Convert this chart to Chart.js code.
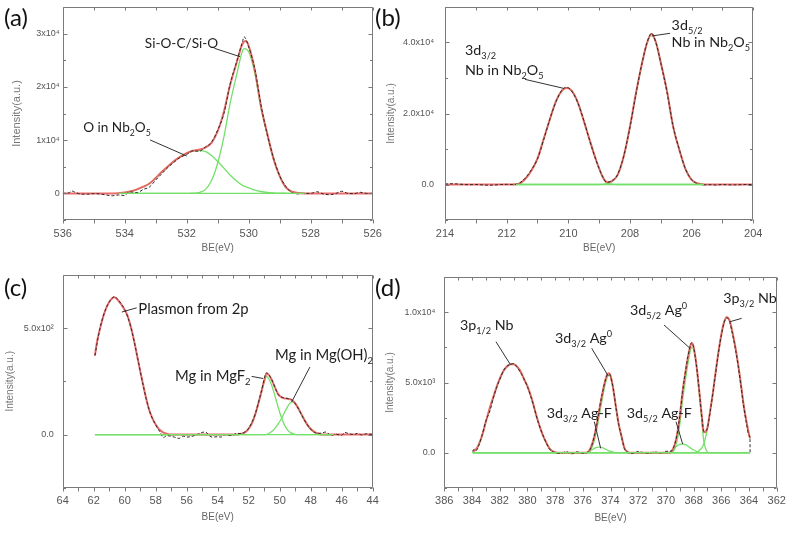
<!DOCTYPE html>
<html>
<head>
<meta charset="utf-8">
<script src="https://cdn.jsdelivr.net/npm/chart.js@4.4.1/dist/chart.umd.min.js"></script>
<style>
  html, body { margin: 0; padding: 0; background: #fff; }
  #fig { position: relative; width: 789px; height: 537px; overflow: hidden; }
  #fig canvas { position: absolute; }
  .tag { position: absolute; font-family: Lato, sans-serif; font-size: 24px; line-height: 1; color: #111; }
</style>
</head>
<body>
<div id="fig">
  <canvas id="pa" width="390" height="268" style="left:0px;top:0px"></canvas>
  <canvas id="pb" width="409" height="268" style="left:380px;top:0px"></canvas>
  <canvas id="pc" width="390" height="269" style="left:0px;top:268px"></canvas>
  <canvas id="pd" width="409" height="269" style="left:380px;top:268px"></canvas>
  <div class="tag" style="left:4px;top:5px">(a)</div>
  <div class="tag" style="left:375px;top:5px">(b)</div>
  <div class="tag" style="left:4px;top:275px">(c)</div>
  <div class="tag" style="left:375px;top:275px">(d)</div>
</div>
<script>
/* ----------------------------- */
/* DATA (a)  O 1s                */
/* ----------------------------- */
const aDataBE = [536.0,535.8,535.7,535.6,535.4,535.2,535.0,534.8,534.6,534.4,534.2,534.0,533.9,533.8,533.6,533.4,533.2,533.0,532.8,532.6,532.4,532.2,532.0,531.8,531.6,531.4,531.2,531.0,530.8,530.6,530.4,530.2,530.15,530.0,529.8,529.6,529.4,529.2,529.0,528.8,528.6,528.4,528.2,528.0,527.8,527.6,527.4,527.2,527.0,526.8,526.6,526.4,526.2,526.0];
const aDataI = [0,100,450,200,-150,-150,-50,-100,-300,-450,-300,-400,100,250,150,750,1200,2500,3700,4900,5900,6800,7300,8000,7900,8700,9600,11900,15000,20500,24500,28500,29400,27500,23300,16500,11000,6700,3300,1300,100,-100,0,0,300,-100,-250,-50,400,0,-50,200,0,0];
const aFitBE = [536,535,534.4,534.2,534.0,533.8,533.6,533.4,533.2,533.0,532.8,532.6,532.4,532.2,532.0,531.8,531.6,531.4,531.2,531.0,530.8,530.6,530.4,530.2,530.1,530.0,529.8,529.6,529.4,529.2,529.0,528.8,528.6,528.4,528.2,527,526];
const aFitI = [0,0,0,30,150,400,750,1250,1850,2900,4050,5100,6100,6900,7550,8000,8200,8600,9500,11700,15350,20350,24350,28100,28600,27700,23100,16250,11200,6510,3250,1120,300,80,0,0,0];
const aNbOBE = [534.2,534.0,533.8,533.6,533.4,533.2,533.0,532.8,532.6,532.4,532.2,532.0,531.8,531.6,531.4,531.2,531.0,530.8,530.6,530.4,530.2,530.0,529.8,529.6,529.4,529.2,529.0,528.8,528.6,528.2];
const aNbOI = [30,150,400,750,1250,1850,2900,4050,5100,6100,6900,7550,7950,8040,7900,7100,6000,4750,3450,2350,1500,1050,600,350,200,110,50,20,0,0];
const aSiOBE = [534.2,532.0,531.8,531.6,531.4,531.2,531.0,530.8,530.6,530.4,530.2,530.14,530.0,529.8,529.6,529.4,529.2,529.0,528.8,528.6,528.4,528.2];
const aSiOI = [0,0,50,150,700,2400,5700,10600,16900,22000,26800,27200,26600,22500,15900,11000,6400,3200,1100,300,80,0];
const aBaseBE = [534.2, 528.2];
const aBaseI = [0, 0];
const aYTickVals = [0, 10000, 20000, 30000];
const aYTickText = ['0', '1x10\u2074', '2x10\u2074', '3x10\u2074'];

/* ----------------------------- */
/* DATA (b)  Nb 3d               */
/* ----------------------------- */
const bDataBE = [214,213.8,213.6,213.4,213.2,213.0,212.8,212.6,212.4,212.2,212.0,211.8,211.6,211.4,211.2,211.0,210.8,210.6,210.4,210.2,210.05,209.9,209.7,209.5,209.3,209.1,208.9,208.76,208.6,208.4,208.2,208.0,207.8,207.6,207.45,207.3,207.15,207.0,206.8,206.6,206.4,206.2,206.0,205.8,205.6,205.4,205.2,205.0,204.8,204.6,204.4,204.2,204];
const bDataI = [100,200,150,0,-50,0,-100,-200,-150,0,50,0,300,1800,4100,7200,12600,18400,23300,26700,27400,26400,23200,18100,12200,6800,2500,650,1000,2800,8100,16200,25800,34600,39900,42600,39700,34200,26100,16400,9900,4400,1400,200,-100,-50,-150,0,-100,-100,-50,0,0];
const bFitBE = [214,212,211.8,211.6,211.4,211.2,211.0,210.8,210.6,210.4,210.2,210.05,209.9,209.7,209.5,209.3,209.1,208.9,208.8,208.72,208.6,208.4,208.2,208.0,207.8,207.6,207.45,207.3,207.15,207.0,206.8,206.6,206.4,206.2,206.0,205.8,205.6,204];
const bFitI = [0,0,0,200,1550,3900,7300,12800,18300,23500,26500,27200,26500,23300,18000,12300,6900,2400,1000,650,900,2700,8000,16300,26000,34500,39800,42400,39800,34300,26300,16300,9800,4300,1300,300,0,0];
const b32BE = [211.8,211.6,211.4,211.2,211.0,210.8,210.6,210.4,210.2,210.05,209.9,209.7,209.5,209.3,209.1,208.9,208.8,208.7,208.6,208.4,205.6];
const b32I = [0,200,1550,3900,7300,12800,18300,23500,26500,27200,26500,23300,18000,12300,6900,2300,900,300,80,0,0];
const b52BE = [211.8,209.0,208.8,208.6,208.4,208.2,208.0,207.8,207.6,207.45,207.3,207.15,207.0,206.8,206.6,206.4,206.2,206.0,205.8,205.6];
const b52I = [0,0,150,700,2700,8000,16300,26000,34500,39800,42400,39800,34300,26300,16300,9800,4300,1300,300,0];
const bBaseBE = [211.7, 205.6];
const bBaseI = [0, 0];
const bYTickVals = [0, 20000, 40000];
const bYTickText = ['0.0', '2.0x10\u2074', '4.0x10\u2074'];

/* ----------------------------- */
/* DATA (c)  Mg 2p               */
/* ----------------------------- */
const cDataBE = [61.92,61.6,61.2,60.8,60.67,60.4,60.0,59.6,59.2,58.8,58.4,58.0,57.7,57.5,57.3,57.0,56.8,56.5,56.2,56.0,55.5,55.0,54.8,54.5,54.3,54.0,53.8,53.5,53.2,53.0,52.8,52.5,52.2,52.0,51.6,51.2,50.85,50.5,50.1,49.7,49.3,48.9,48.5,48.1,47.7,47.4,47.0,46.7,46.4,46.0,45.8,45.5,45.2,45.0,44.7,44.4,44.0];
const cDataI = [371,497,594,641,648,630,587,503,372,228,110,45,10,-15,-5,-8,-12,-18,-8,-12,-5,10,12,-8,-12,-10,-12,0,-5,-2,5,5,15,30,92,197,290,256,188,172,166,135,80,34,8,6,12,-5,2,-4,10,3,0,5,-2,4,0];
const cFitBE = [61.92,61.8,61.6,61.4,61.2,61.0,60.8,60.67,60.4,60.2,60.0,59.8,59.6,59.4,59.2,59.0,58.8,58.6,58.4,58.2,58.0,57.8,57.6,57.4,57.0,52.8,52.6,52.4,52.2,52.0,51.8,51.6,51.4,51.2,51.0,50.85,50.7,50.5,50.3,50.1,49.9,49.7,49.5,49.3,49.1,48.9,48.7,48.5,48.3,48.1,47.9,47.7,47.5,47.3,44.0];
const cFitI = [371,430,495,550,592,622,640,645,628,608,585,555,505,442,370,298,230,165,112,75,47,27,14,6,0,0,2,5,12,28,52,90,140,195,252,285,280,255,220,190,176,170,168,165,155,136,110,82,56,35,20,10,4,0,0];
const cMgF2BE = [61.92,52.6,52.4,52.2,52.0,51.8,51.6,51.4,51.2,51.0,50.85,50.7,50.5,50.3,50.1,49.9,49.7,49.5,49.3,49.1,48.9,46.5];
const cMgF2I = [0,0,5,12,28,52,90,140,195,248,273,262,228,180,128,82,46,22,9,3,0,0];
const cMgOHBE = [61.92,50.9,50.7,50.5,50.3,50.1,49.9,49.7,49.5,49.3,49.2,49.0,48.8,48.6,48.4,48.2,48.0,47.8,47.6,47.4,47.2,46.5];
const cMgOHI = [0,0,5,15,30,50,73,102,130,150,153,145,122,95,66,42,24,13,6,2,0,0];
const cBaseBE = [61.92, 46.5];
const cBaseI = [0, 0];
const cYTickVals = [0, 500];
const cYTickText = ['0.0', '5.0x10\u00b2'];

/* ----------------------------- */
/* DATA (d)  Nb 3p / Ag 3d       */
/* ----------------------------- */
const dDataBE = [383.95,383.85,383.7,383.5,383.3,383.0,382.7,382.4,382.0,381.6,381.2,381.0,380.8,380.4,380.0,379.6,379.2,378.8,378.4,378.0,377.6,377.2,376.8,376.4,376.0,375.6,375.4,375.2,375.0,374.8,374.6,374.4,374.2,374.1,374.0,373.8,373.6,373.4,373.2,373.0,372.8,372.4,372.0,371.6,371.2,370.8,370.4,370.0,369.6,369.4,369.2,369.0,368.8,368.6,368.4,368.2,368.12,368.0,367.8,367.6,367.4,367.25,367.1,367.0,366.8,366.6,366.4,366.2,366.0,365.8,365.6,365.4,365.2,365.0,364.8,364.6,364.4,364.2,364.0,363.93,363.92];
const dDataI = [100,250,150,550,1150,2250,3000,4100,5200,6050,6300,6350,6150,5550,4700,3500,2100,1050,250,0,-50,80,-80,60,-50,80,380,1050,1950,3150,4200,5050,5600,5600,5450,4550,3200,1950,1150,300,50,-60,80,0,-40,60,-30,100,120,480,1250,2600,4300,5700,6900,7750,7850,7500,6250,4500,2500,1500,1550,1750,2950,4300,5750,7150,8350,9250,9600,9350,8500,7500,6300,4900,3400,2200,1250,1000,0];
const dFitBE = [383.95,383.8,383.6,383.4,383.2,383.0,382.8,382.6,382.4,382.2,382.0,381.8,381.6,381.4,381.2,381.0,380.8,380.6,380.4,380.2,380.0,379.8,379.6,379.4,379.2,379.0,378.8,378.6,378.4,378.2,378.0,377.8,375.8,375.6,375.4,375.2,375.0,374.8,374.6,374.4,374.2,374.1,374.0,373.8,373.6,373.4,373.2,373.0,372.8,372.6,369.8,369.6,369.4,369.2,369.0,368.8,368.6,368.4,368.2,368.12,368.0,367.8,367.6,367.4,367.3,367.2,367.1,367.0,366.8,366.6,366.4,366.2,366.0,365.8,365.6,365.4,365.2,365.0,364.8,364.6,364.4,364.2,364.0,363.93];
const dFitI = [100,150,400,850,1450,2200,2900,3550,4150,4750,5250,5700,6000,6200,6300,6300,6200,5950,5600,5150,4750,4200,3550,2800,2150,1550,1050,650,300,120,30,0,0,60,410,1040,1990,3100,4160,5070,5620,5650,5490,4540,3200,2000,1150,350,80,0,0,100,480,1270,2590,4320,5670,6860,7720,7800,7540,6290,4480,2550,1600,1450,1550,1800,3000,4300,5800,7200,8400,9300,9650,9400,8600,7600,6400,5000,3500,2300,1300,1020];
const d3p12BE = [383.95,383.8,383.6,383.4,383.2,383.0,382.8,382.6,382.4,382.2,382.0,381.8,381.6,381.4,381.2,381.0,380.8,380.6,380.4,380.2,380.0,379.8,379.6,379.4,379.2,379.0,378.8,378.6,378.4,378.2,378.0,377.8,363.93];
const d3p12I = [100,150,400,850,1450,2200,2900,3550,4150,4750,5250,5700,6000,6200,6300,6300,6200,5950,5600,5150,4750,4200,3550,2800,2150,1550,1050,650,300,120,30,0,0];
const dAg32BE = [383.95,375.6,375.4,375.2,375.0,374.8,374.6,374.4,374.2,374.1,374.0,373.8,373.6,373.4,373.2,373.0,372.8,372.6,363.93];
const dAg32I = [0,0,250,750,1610,2700,3800,4800,5450,5520,5400,4500,3200,2000,1150,350,80,0,0];
const dAgF32BE = [383.95,375.8,375.6,375.4,375.2,375.0,374.8,374.6,374.4,374.2,374.0,373.8,373.6,363.93];
const dAgF32I = [0,0,60,160,290,380,400,360,270,170,90,40,0,0];
const dAg52BE = [383.95,369.6,369.4,369.2,369.0,368.8,368.6,368.4,368.2,368.12,368.0,367.8,367.6,367.4,367.3,367.2,367.0,366.8,363.93];
const dAg52I = [0,0,200,800,2000,3700,5100,6400,7400,7500,7350,6200,4300,2200,1100,500,60,0,0];
const dAgF52BE = [383.95,369.8,369.6,369.4,369.2,369.0,368.8,368.6,368.4,368.2,368.0,367.8,367.6,367.4,363.93];
const dAgF52I = [0,0,100,280,470,590,620,570,460,320,190,90,30,0,0];
const d3p32BE = [383.95,367.8,367.6,367.4,367.3,367.2,367.0,366.8,366.6,366.4,366.2,366.0,365.8,365.6,365.4,365.2,365.0,364.8,364.6,364.4,364.2,364.0,363.93];
const d3p32I = [0,0,150,350,550,850,1700,3000,4300,5800,7200,8400,9300,9650,9400,8600,7600,6400,5000,3500,2300,1300,1020];
const dBaseBE = [383.95, 363.93];
const dBaseI = [0, 0];
const dYTickVals = [0, 5000, 10000];
const dYTickText = ['0.0', '5.0x10\u00b3', '1.0x10\u2074'];

/* ----------------------------- */
/* PEAK LABELS (data coords)     */
/* ----------------------------- */
const NB2O5 = ['Nb', ['2', 'sub'], 'O', ['5', 'sub']];
const aNotes = [
  { at: [533.35, 27300], parts: ['Si-O-C/Si-O'], from: [531.11, 27250], to: [530.28, 25670] },
  { at: [535.34, 11530], parts: ['O in ', ...NB2O5], from: [533.18, 10030], to: [532.0, 7020] },
];
const bNotes = [
  { at: [213.35, 36480], parts: ['3d', ['3/2', 'sub']] },
  { at: [213.35, 30850], parts: ['Nb in ', ...NB2O5], from: [211.41, 29630], to: [210.16, 27100] },
  { at: [206.65, 43520], parts: ['3d', ['5/2', 'sub']], from: [206.70, 42590], to: [207.30, 41830] },
  { at: [206.65, 38730], parts: ['Nb in ', ...NB2O5] },
];
const cNotes = [
  { at: [59.12, 564], parts: ['Plasmon from 2p'], from: [59.23, 595], to: [60.19, 575] },
  { at: [56.75, 250], parts: ['Mg in MgF', ['2', 'sub']], from: [51.81, 273], to: [51.06, 263] },
  { at: [50.30, 348], parts: ['Mg in Mg(OH)', ['2', 'sub']], from: [48.05, 317], to: [49.23, 153] },
];
const dNotes = [
  { at: [384.87, 8740], parts: ['3p', ['1/2', 'sub'], ' Nb'], from: [382.27, 7905], to: [381.21, 6250] },
  { at: [378.01, 7810], parts: ['3d', ['3/2', 'sub'], ' Ag', ['0', 'sup']], from: [375.36, 7440], to: [374.16, 5460] },
  { at: [378.61, 2470], parts: ['3d', ['3/2', 'sub'], ' Ag-F'], from: [375.17, 2210], to: [374.71, 310] },
  { at: [372.83, 2470], parts: ['3d', ['5/2', 'sub'], ' Ag-F'], from: [369.27, 2210], to: [368.79, 620] },
  { at: [372.59, 9810], parts: ['3d', ['5/2', 'sub'], ' Ag', ['0', 'sup']], from: [370.14, 9100], to: [368.26, 7440] },
  { at: [365.86, 10660], parts: ['3p', ['3/2', 'sub'], ' Nb'], from: [364.53, 9570], to: [365.37, 9330] },
];

/* ----------------------------- */
/* STYLE                         */
/* ----------------------------- */
const RED = 'rgba(234, 92, 92, 0.9)';
const GREEN = 'rgb(116, 224, 106)';
const DARK = '#2e2828';
const AXIS = '#7a7a7a';
const TICKTEXT = '#555';
const SANS = '"Liberation Sans", Arial, sans-serif';
const NOTEFONT = 'Lato, "Open Sans", sans-serif';

const panels = [
  { id: 'pa', w: 390, h: 268, left: 62.7, top: 7, right: 372.7, bottom: 220,
    xMin: 526, xMax: 536, yMin: -5000, yMax: 35000, yStep: 5000,
    yVals: aYTickVals, yText: aYTickText, yPad: 3, yTitleSize: 11, yTitlePad: 10.5, xTitlePad: 14, noteSize: 13.6,
    dataBE: aDataBE, dataI: aDataI, fitBE: aFitBE, fitI: aFitI, baseBE: aBaseBE, baseI: aBaseI,
    comps: [[aNbOBE, aNbOI], [aSiOBE, aSiOI]], notes: aNotes },
  { id: 'pb', w: 409, h: 268, left: 65, top: 7, right: 373.3, bottom: 220,
    xMin: 204, xMax: 214, yMin: -10000, yMax: 50000, yStep: 10000,
    yVals: bYTickVals, yText: bYTickText, yPad: 11, yTitleSize: 10, yTitlePad: 5, xTitlePad: 14, noteSize: 14.3,
    dataBE: bDataBE, dataI: bDataI, fitBE: bFitBE, fitI: bFitI, baseBE: bBaseBE, baseI: bBaseI,
    comps: [[b32BE, b32I], [b52BE, b52I]], notes: bNotes },
  { id: 'pc', w: 390, h: 269, left: 62.7, top: 6.8, right: 372.7, bottom: 219.8,
    xMin: 44, xMax: 64, yMin: -250, yMax: 750, yStep: 250,
    yVals: cYTickVals, yText: cYTickText, yPad: 9, yTitleSize: 10, yTitlePad: 4, xTitlePad: 13.5, noteSize: 14.8,
    dataBE: cDataBE, dataI: cDataI, fitBE: cFitBE, fitI: cFitI, baseBE: cBaseBE, baseI: cBaseI,
    comps: [[cMgF2BE, cMgF2I], [cMgOHBE, cMgOHI]], notes: cNotes },
  { id: 'pd', w: 409, h: 269, left: 64.3, top: 9.2, right: 396.7, bottom: 219.8,
    xMin: 362, xMax: 386, yMin: -2500, yMax: 12500, yStep: 2500,
    yVals: dYTickVals, yText: dYTickText, yPad: 9, yTitleSize: 10, yTitlePad: 4, xTitlePad: 13, noteSize: 14.3,
    dataBE: dDataBE, dataI: dDataI, fitBE: dFitBE, fitI: dFitI, baseBE: dBaseBE, baseI: dBaseI,
    comps: [[d3p12BE, d3p12I], [dAg32BE, dAg32I], [dAgF32BE, dAgF32I], [dAg52BE, dAg52I], [dAgF52BE, dAgF52I], [d3p32BE, d3p32I]],
    notes: dNotes },
];

/* ----------------------------- */
/* HELPERS                       */
/* ----------------------------- */
const pairs = (xs, ys) => xs.map((x, i) => ({ x, y: ys[i] }));

const drawRich = (ctx, x, y, parts, size) => {
  let cx = x;
  parts.forEach((p) => {
    const [txt, kind] = Array.isArray(p) ? p : [p, null];
    const fs = kind ? size * 0.64 : size;
    const dy = kind === 'sub' ? size * 0.26 : kind === 'sup' ? -size * 0.42 : 0;
    ctx.font = `${fs}px ${NOTEFONT}`;
    ctx.fillText(txt, cx, y + dy);
    cx += ctx.measureText(txt).width;
  });
};

// box round the plot with Origin-style ticks (out at bottom, in elsewhere)
const framePlugin = {
  id: 'frame',
  afterDatasetsDraw(chart) {
    const { ctx, chartArea: a, scales: { x, y } } = chart;
    const L = Math.round(a.left) + 0.5, R = Math.round(a.right) - 0.5;
    const T = Math.round(a.top) + 0.5, B = Math.round(a.bottom) - 0.5;
    ctx.save();
    ctx.strokeStyle = AXIS;
    ctx.lineWidth = 1;
    ctx.beginPath();
    ctx.rect(L, T, R - L, B - T);
    x.ticks.forEach((t) => {
      const px = Math.round(x.getPixelForValue(t.value)) + 0.5;
      ctx.moveTo(px, B); ctx.lineTo(px, B + 4);
      ctx.moveTo(px, T); ctx.lineTo(px, T + 3);
    });
    y.ticks.forEach((t) => {
      const py = Math.round(y.getPixelForValue(t.value)) + 0.5;
      const len = t.label ? 4 : 2.5;
      ctx.moveTo(L, py); ctx.lineTo(L + len, py);
      ctx.moveTo(R, py); ctx.lineTo(R - len, py);
    });
    ctx.stroke();
    ctx.restore();
  },
};

const notesPlugin = (notes, size) => ({
  id: 'notes',
  afterDraw(chart) {
    const { ctx, scales: { x, y } } = chart;
    ctx.save();
    ctx.fillStyle = '#1e1e1e';
    ctx.strokeStyle = '#333';
    ctx.lineWidth = 1;
    ctx.textBaseline = 'alphabetic';
    ctx.textAlign = 'left';
    notes.forEach((n) => {
      if (n.from) {
        ctx.beginPath();
        ctx.moveTo(x.getPixelForValue(n.from[0]), y.getPixelForValue(n.from[1]));
        ctx.lineTo(x.getPixelForValue(n.to[0]), y.getPixelForValue(n.to[1]));
        ctx.stroke();
      }
      drawRich(ctx, x.getPixelForValue(n.at[0]), y.getPixelForValue(n.at[1]), n.parts, size);
    });
    ctx.restore();
  },
});

/* ----------------------------- */
/* CHARTS                        */
/* ----------------------------- */
const buildPanel = (p) => {
  const datasets = [
    { data: pairs(p.baseBE, p.baseI), borderColor: GREEN, borderWidth: 1.3, order: 0 },
    { data: pairs(p.dataBE, p.dataI), borderColor: DARK, borderWidth: 1, borderDash: [3, 2], order: 1 },
    { data: pairs(p.fitBE, p.fitI), borderColor: RED, borderWidth: 2, order: 2 },
    ...p.comps.map(([be, inten]) => ({ data: pairs(be, inten), borderColor: GREEN, borderWidth: 1.3, order: 3 })),
  ];
  return new Chart(document.getElementById(p.id), {
    type: 'line',
    data: { datasets },
    options: {
      responsive: false,
      animation: false,
      devicePixelRatio: 1,
      layout: { padding: { left: 0, top: p.top, right: p.w - p.right, bottom: 0 } },
      elements: {
        point: { radius: 0 },
        line: { cubicInterpolationMode: 'monotone', fill: false },
      },
      plugins: { legend: { display: false }, tooltip: { enabled: false } },
      scales: {
        x: {
          type: 'linear',
          reverse: true,
          min: p.xMin,
          max: p.xMax,
          afterFit: (s) => { s.height = p.h - p.bottom; s.paddingLeft = 0; s.paddingRight = 0; },
          grid: { display: false, drawTicks: false },
          border: { display: false },
          ticks: {
            stepSize: 1,
            autoSkip: false,
            maxRotation: 0,
            padding: 7,
            color: TICKTEXT,
            font: { family: SANS, size: 11 },
            callback: (v) => (Math.round(v) % 2 === 0 ? String(Math.round(v)) : ''),
          },
          title: {
            display: true,
            text: 'BE(eV)',
            color: '#666',
            font: { family: SANS, size: 10 },
            padding: { top: 0, bottom: p.xTitlePad },
          },
        },
        y: {
          type: 'linear',
          min: p.yMin,
          max: p.yMax,
          afterFit: (s) => { s.width = p.left; s.paddingTop = 0; s.paddingBottom = 0; },
          grid: { display: false, drawTicks: false },
          border: { display: false },
          ticks: {
            stepSize: p.yStep,
            autoSkip: false,
            padding: p.yPad,
            color: TICKTEXT,
            font: { family: SANS, size: 9 },
            callback: (v) => {
              const k = p.yVals.indexOf(v);
              return k >= 0 ? p.yText[k] : '';
            },
          },
          title: {
            display: true,
            text: 'Intensity(a.u.)',
            color: '#777',
            font: { family: SANS, size: p.yTitleSize },
            padding: { top: p.yTitlePad, bottom: 0 },
          },
        },
      },
    },
    plugins: [framePlugin, notesPlugin(p.notes, p.noteSize)],
  });
};

panels.forEach(buildPanel);
</script>
</body>
</html>
